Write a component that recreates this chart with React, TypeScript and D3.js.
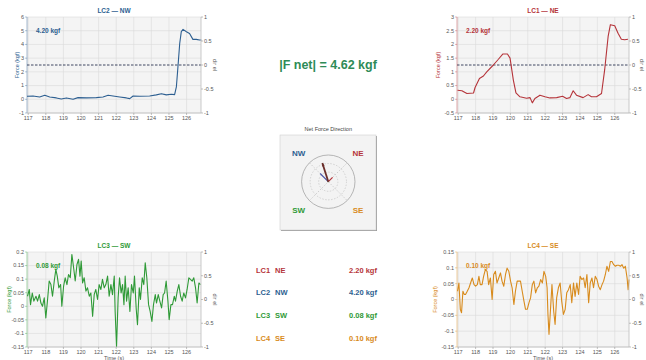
import React from 'react';
import * as d3 from 'd3';

// ---------- data ----------
const X_TICKS = [117, 118, 119, 120, 121, 122, 123, 124, 125, 126];
const X_DOMAIN = [116.93, 126.82];
const DIR_TICKS = [-1, -0.5, 0, 0.5, 1];

const LC1_TIME = [116.96, 117.21, 117.5, 117.88, 117.97, 118.22, 118.45, 118.64, 119.02, 119.31, 119.56, 119.83, 119.98, 120.17, 120.32, 120.55, 120.93, 121.13, 121.26, 121.41, 121.7, 121.99, 122.27, 122.66, 123.0, 123.23, 123.42, 123.61, 123.8, 124.18, 124.47, 124.66, 124.95, 125.24, 125.42, 125.62, 125.75, 126.0, 126.19, 126.38, 126.57, 126.76];
const LC1_FORCE = [0.33, 0.31, 0.21, 0.23, 0.43, 0.76, 0.85, 1.0, 1.25, 1.46, 1.65, 1.65, 1.5, 0.7, 0.23, 0.09, 0.04, 0.06, -0.13, 0.03, 0.15, 0.09, 0.05, 0.06, 0.11, 0.03, 0.06, 0.31, 0.15, 0.06, 0.17, 0.09, 0.09, 0.21, 1.07, 2.29, 2.72, 2.68, 2.41, 2.19, 2.17, 2.19];

const LC2_TIME = [116.93, 117.27, 117.65, 117.94, 118.22, 118.6, 118.88, 119.17, 119.55, 119.83, 120.31, 120.87, 121.25, 121.54, 121.82, 122.2, 122.58, 122.77, 122.96, 123.34, 123.9, 124.28, 124.57, 124.85, 125.13, 125.32, 125.42, 125.51, 125.61, 125.7, 125.8, 125.99, 126.17, 126.36, 126.55, 126.74, 126.84];
const LC2_FORCE = [0.22, 0.24, 0.17, 0.29, 0.17, 0.1, 0.02, 0.1, 0.0, 0.12, 0.1, 0.12, 0.17, 0.29, 0.24, 0.17, 0.1, 0.05, 0.24, 0.22, 0.24, 0.32, 0.41, 0.32, 0.37, 0.34, 0.9, 2.37, 4.07, 4.93, 5.1, 4.93, 4.8, 4.37, 4.37, 4.32, 4.32];

const LC3_TIME = [116.96, 117.06, 117.13, 117.23, 117.32, 117.44, 117.53, 117.63, 117.72, 117.81, 117.91, 118.0, 118.1, 118.19, 118.29, 118.38, 118.48, 118.57, 118.65, 118.74, 118.84, 118.91, 119.01, 119.1, 119.2, 119.29, 119.39, 119.48, 119.58, 119.67, 119.77, 119.86, 119.94, 120.01, 120.09, 120.18, 120.28, 120.37, 120.47, 120.56, 120.66, 120.75, 120.84, 120.94, 121.03, 121.13, 121.22, 121.32, 121.41, 121.51, 121.6, 121.7, 121.79, 121.89, 121.94, 122.02, 122.11, 122.19, 122.28, 122.36, 122.44, 122.51, 122.59, 122.68, 122.78, 122.87, 122.97, 123.04, 123.14, 123.21, 123.31, 123.38, 123.48, 123.57, 123.65, 123.74, 123.84, 123.93, 124.03, 124.12, 124.22, 124.29, 124.39, 124.48, 124.58, 124.67, 124.75, 124.84, 124.94, 125.01, 125.11, 125.2, 125.3, 125.37, 125.47, 125.56, 125.66, 125.75, 125.84, 125.94, 126.03, 126.13, 126.22, 126.32, 126.41, 126.51, 126.6, 126.7, 126.79];
const LC3_FORCE = [0.037, 0.062, 0.006, 0.049, 0.019, 0.037, 0.019, 0.043, 0.012, 0.0, 0.031, -0.043, 0.025, 0.093, 0.08, 0.037, 0.093, 0.136, 0.111, 0.068, 0.08, 0.0, 0.074, 0.105, 0.08, 0.117, 0.105, 0.191, 0.142, 0.093, 0.154, 0.173, 0.111, 0.167, 0.086, 0.105, 0.056, 0.068, 0.037, 0.049, -0.037, 0.043, 0.062, 0.025, 0.08, 0.062, 0.099, 0.068, 0.08, 0.111, 0.037, 0.08, 0.043, 0.111, -0.019, -0.148, 0.031, 0.105, 0.049, 0.08, 0.006, 0.111, 0.019, 0.068, -0.019, 0.08, 0.049, 0.111, -0.012, -0.068, 0.068, 0.025, 0.105, 0.08, 0.16, 0.105, 0.006, -0.019, -0.056, 0.006, 0.043, 0.012, 0.043, 0.019, -0.006, 0.043, 0.049, 0.093, 0.019, -0.049, 0.006, 0.006, 0.037, 0.019, 0.056, 0.08, 0.037, 0.019, 0.049, 0.031, 0.062, 0.105, 0.099, 0.093, 0.105, 0.068, 0.012, 0.086, 0.08];

const LC4_TIME = [116.96, 117.04, 117.12, 117.19, 117.27, 117.35, 117.42, 117.52, 117.62, 117.71, 117.81, 117.91, 118.0, 118.1, 118.19, 118.27, 118.37, 118.46, 118.56, 118.66, 118.75, 118.85, 118.95, 119.04, 119.14, 119.23, 119.33, 119.43, 119.52, 119.62, 119.72, 119.81, 119.91, 120.01, 120.1, 120.2, 120.29, 120.39, 120.49, 120.58, 120.68, 120.78, 120.87, 120.97, 121.07, 121.16, 121.26, 121.35, 121.45, 121.55, 121.64, 121.74, 121.84, 121.93, 122.03, 122.11, 122.16, 122.22, 122.3, 122.39, 122.49, 122.57, 122.66, 122.76, 122.86, 122.95, 123.05, 123.15, 123.24, 123.34, 123.44, 123.53, 123.63, 123.72, 123.82, 123.92, 124.01, 124.11, 124.21, 124.3, 124.4, 124.5, 124.59, 124.69, 124.78, 124.88, 124.98, 125.07, 125.17, 125.27, 125.36, 125.46, 125.55, 125.65, 125.75, 125.84, 125.94, 126.04, 126.13, 126.23, 126.33, 126.42, 126.52, 126.61, 126.71, 126.77, 126.82];
const LC4_FORCE = [0.026, 0.052, -0.031, -0.042, 0.026, 0.016, 0.016, 0.026, 0.037, 0.052, 0.068, 0.047, 0.042, 0.047, 0.073, 0.047, 0.047, 0.073, 0.094, 0.089, 0.047, 0.068, 0.0, 0.079, 0.089, 0.052, 0.068, 0.084, 0.058, 0.042, 0.079, 0.099, 0.089, 0.058, 0.037, -0.016, 0.026, 0.058, 0.058, 0.058, 0.026, -0.005, -0.031, -0.031, -0.01, 0.005, 0.047, 0.058, 0.021, 0.037, 0.042, 0.063, 0.052, 0.089, 0.073, 0.037, -0.047, -0.11, -0.037, 0.047, -0.037, -0.079, 0.005, 0.037, 0.052, -0.005, -0.047, -0.031, 0.021, 0.031, 0.047, -0.01, 0.052, 0.01, 0.052, 0.016, 0.073, 0.063, 0.068, 0.037, 0.079, -0.01, 0.052, 0.068, 0.037, 0.073, 0.063, 0.042, 0.031, 0.047, 0.058, 0.079, 0.105, 0.089, 0.12, 0.12, 0.11, 0.105, 0.108, 0.108, 0.105, 0.11, 0.099, 0.105, 0.068, 0.031, 0.063];

const LC1_YTICKS = [-0.5, 0, 0.5, 1, 1.5, 2, 2.5, 3];
const LC2_YTICKS = [-1, 0, 1, 2, 3, 4, 5, 6];
const LC3_YTICKS = [-0.15, -0.1, -0.05, 0, 0.05, 0.1, 0.15, 0.2];
const LC4_YTICKS = [-0.15, -0.1, -0.05, 0, 0.05, 0.1, 0.15];

const LC_NAMES = ['LC1', 'LC2', 'LC3', 'LC4'];
const LC_DIRS = ['NE', 'NW', 'SW', 'SE'];
const LC_BEARINGS = [45, -45, -135, 135];
const LC_FINAL = [2.2, 4.2, 0.08, 0.1];
const NET_FORCE = 4.62;

// ---------- style ----------
const COLORS = ['#b5343a', '#2d5f91', '#2f9a37', '#d88b1d'];
const FONT = "'Liberation Sans', Arial, Helvetica, sans-serif";
const fmt = (v: number) => (v.toFixed(2));

type PanelProps = {
  x0: number; x1: number; y0: number; y1: number;
  times: number[]; values: number[]; yTicks: number[];
  color: string; title: string; annotation: string;
  dashed: boolean; xLabel: boolean; yLabelX: number; rLabelX: number;
};

function Panel(p: PanelProps) {
  const xs = d3.scaleLinear().domain(X_DOMAIN).range([p.x0, p.x1]);
  const ys = d3.scaleLinear().domain([p.yTicks[0], p.yTicks[p.yTicks.length - 1]]).range([p.y1, p.y0]);
  const yr = d3.scaleLinear().domain([-1, 1]).range([p.y1, p.y0]);
  const line = d3.line<number>().x((_, i) => xs(p.times[i])).y((d) => ys(d));
  const midY = (p.y0 + p.y1) / 2;
  const cx = (p.x0 + p.x1) / 2;
  return (
    <g>
      <rect x={p.x0} y={p.y0} width={p.x1 - p.x0} height={p.y1 - p.y0} fill="#f4f4f4" />
      {X_TICKS.map((t) => (
        <line key={'gx' + t} x1={xs(t)} x2={xs(t)} y1={p.y0} y2={p.y1} stroke="#dadada" strokeWidth={0.6} />
      ))}
      {p.yTicks.map((t) => (
        <line key={'gy' + t} x1={p.x0} x2={p.x1} y1={ys(t)} y2={ys(t)} stroke="#dadada" strokeWidth={0.6} />
      ))}
      {p.dashed && (
        <line x1={p.x0} x2={p.x1} y1={yr(0)} y2={yr(0)} stroke="#2a3350" strokeWidth={0.9} strokeDasharray="2.5,1.5" />
      )}
      <path d={line(p.values) || ''} fill="none" stroke={p.color} strokeWidth={1.1} strokeLinejoin="round" />
      <line x1={p.x0} x2={p.x0} y1={p.y0} y2={p.y1} stroke={p.color} strokeOpacity={0.55} strokeWidth={0.8} />
      <line x1={p.x1} x2={p.x1} y1={p.y0} y2={p.y1} stroke="#bdbdbd" strokeWidth={0.8} />
      <line x1={p.x0} x2={p.x1} y1={p.y1} y2={p.y1} stroke="#bdbdbd" strokeWidth={0.8} />
      {p.yTicks.map((t) => (
        <g key={'ly' + t}>
          <line x1={p.x0 - 2} x2={p.x0} y1={ys(t)} y2={ys(t)} stroke={p.color} strokeOpacity={0.6} strokeWidth={0.6} />
          <text x={p.x0 - 3} y={ys(t)} dy="0.35em" textAnchor="end" fontSize={5.5} fill="#555">{String(t)}</text>
        </g>
      ))}
      {DIR_TICKS.map((t) => (
        <g key={'ry' + t}>
          <line x1={p.x1} x2={p.x1 + 2} y1={yr(t)} y2={yr(t)} stroke="#999" strokeWidth={0.6} />
          <text x={p.x1 + 3} y={yr(t)} dy="0.35em" textAnchor="start" fontSize={5.5} fill="#555">{String(t)}</text>
        </g>
      ))}
      {X_TICKS.map((t) => (
        <g key={'bx' + t}>
          <line x1={xs(t)} x2={xs(t)} y1={p.y1} y2={p.y1 + 2} stroke="#999" strokeWidth={0.6} />
          <text x={xs(t)} y={p.y1 + 5} dy="0.35em" textAnchor="middle" fontSize={5.5} fill="#555">{String(t)}</text>
        </g>
      ))}
      <text x={cx} y={p.y0 - 4} textAnchor="middle" fontSize={6.5} fontWeight="bold" fill={p.color}>{p.title}</text>
      <text x={p.x0 + 9} y={p.y0 + 14} dy="0.35em" fontSize={6.5} fontWeight="bold" fill={p.color}>{p.annotation}</text>
      <text transform={`translate(${p.yLabelX},${midY}) rotate(-90)`} textAnchor="middle" dy="0.35em" fontSize={5.5} fill={p.color}>Force (kgf)</text>
      <text transform={`translate(${p.rLabelX},${midY}) rotate(90)`} textAnchor="middle" dy="0.35em" fontSize={5.5} fill="#555">dir el</text>
      {p.xLabel && (
        <text x={cx} y={p.y1 + 11} dy="0.35em" textAnchor="middle" fontSize={5.5} fill="#555">Time (s)</text>
      )}
    </g>
  );
}

function Compass() {
  const cx = 328.3, cy = 181.7, R = 26.7;
  const rNet = d3.scaleLinear().domain([0, 6.3]).range([0, R]);
  const rComp = d3.scaleLinear().domain([0, 9.7]).range([0, R]);
  const rad = (deg: number) => (deg * Math.PI) / 180;
  const vx = d3.sum(LC_FINAL.map((f, i) => f * Math.sin(rad(LC_BEARINGS[i]))));
  const vy = d3.sum(LC_FINAL.map((f, i) => f * Math.cos(rad(LC_BEARINGS[i]))));
  const ang = Math.atan2(vx, vy);
  const tipX = cx + rNet(NET_FORCE) * Math.sin(ang);
  const tipY = cy - rNet(NET_FORCE) * Math.cos(ang);
  const ah = 3.5;
  const head = [
    [tipX, tipY],
    [tipX - ah * Math.sin(ang - 0.4), tipY + ah * Math.cos(ang - 0.4)],
    [tipX - ah * Math.sin(ang + 0.4), tipY + ah * Math.cos(ang + 0.4)],
  ];
  return (
    <g>
      <text x={cx} y={131} textAnchor="middle" fontSize={5.5} fill="#444">Net Force Direction</text>
      <rect x={281} y={136} width={96} height={95} fill="#9a9a9a" />
      <rect x={280} y={135} width={96} height={95} fill="#f3f3f3" stroke="#cfcfcf" strokeWidth={0.6} />
      <circle cx={cx} cy={cy} r={R} fill="none" stroke="#9a9a9a" strokeWidth={0.7} />
      {[R * 0.68, R * 0.36].map((r) => (
        <circle key={r} cx={cx} cy={cy} r={r} fill="none" stroke="#b0b0b0" strokeWidth={0.5} strokeDasharray="1.5,1.5" />
      ))}
      {[45, 135].map((b) => (
        <line key={b} x1={cx - R * Math.sin(rad(b))} y1={cy + R * Math.cos(rad(b))} x2={cx + R * Math.sin(rad(b))} y2={cy - R * Math.cos(rad(b))}
          stroke="#a8a8a8" strokeWidth={0.5} strokeDasharray="1.5,1.5" />
      ))}
      {LC_DIRS.map((d, i) => (
        <text key={d} x={cx + 42 * Math.sin(rad(LC_BEARINGS[i]))} y={cy - 41 * Math.cos(rad(LC_BEARINGS[i]))} dy="0.35em"
          textAnchor="middle" fontSize={8} fontWeight="bold" fill={COLORS[i]}>{d}</text>
      ))}
      {LC_FINAL.map((f, i) => (
        <line key={'c' + i} x1={cx} y1={cy} x2={cx + rComp(f) * Math.sin(rad(LC_BEARINGS[i]))} y2={cy - rComp(f) * Math.cos(rad(LC_BEARINGS[i]))}
          stroke={i === 1 ? '#4a56a8' : COLORS[i]} strokeWidth={1.2} />
      ))}
      <line x1={cx} y1={cy} x2={tipX} y2={tipY} stroke="#6a2e2a" strokeWidth={1.8} />
      <polygon points={head.map((h) => h.join(',')).join(' ')} fill="#6a2e2a" />
    </g>
  );
}

export default function App() {
  return (
    <svg width={646} height={360} style={{ position: 'absolute', left: 0, top: 0, background: '#fff' }} fontFamily={FONT}>
      <rect width={646} height={360} fill="#fff" />
      <Panel x0={27} x1={201} y0={17} y1={113} times={LC2_TIME} values={LC2_FORCE} yTicks={LC2_YTICKS}
        color={COLORS[1]} title={`${LC_NAMES[1]} — ${LC_DIRS[1]}`} annotation={`${fmt(LC_FINAL[1])} kgf`}
        dashed={true} xLabel={false} yLabelX={17} rLabelX={215} />
      <Panel x0={457} x1={629} y0={17} y1={113} times={LC1_TIME} values={LC1_FORCE} yTicks={LC1_YTICKS}
        color={COLORS[0]} title={`${LC_NAMES[0]} — ${LC_DIRS[0]}`} annotation={`${fmt(LC_FINAL[0])} kgf`}
        dashed={true} xLabel={false} yLabelX={438} rLabelX={642} />
      <Panel x0={27} x1={201} y0={252} y1={347} times={LC3_TIME} values={LC3_FORCE} yTicks={LC3_YTICKS}
        color={COLORS[2]} title={`${LC_NAMES[2]} — ${LC_DIRS[2]}`} annotation={`${fmt(LC_FINAL[2])} kgf`}
        dashed={false} xLabel={true} yLabelX={9} rLabelX={215} />
      <Panel x0={457} x1={629} y0={252} y1={347} times={LC4_TIME} values={LC4_FORCE} yTicks={LC4_YTICKS}
        color={COLORS[3]} title={`${LC_NAMES[3]} — ${LC_DIRS[3]}`} annotation={`${fmt(LC_FINAL[3])} kgf`}
        dashed={false} xLabel={true} yLabelX={435} rLabelX={642} />
      <text x={328} y={65} dy="0.35em" textAnchor="middle" fontSize={12.5} fontWeight="bold" fill="#2e8b57">
        {`|F net| = ${fmt(NET_FORCE)} kgf`}
      </text>
      <Compass />
      {LC_NAMES.map((n, i) => (
        <g key={n}>
          <text x={256} y={270 + i * 22.8} dy="0.35em" fontSize={7.5} fontWeight="bold" fill={COLORS[i]}>{n}</text>
          <text x={275} y={270 + i * 22.8} dy="0.35em" fontSize={7.5} fontWeight="bold" fill={COLORS[i]}>{LC_DIRS[i]}</text>
          <text x={349} y={270 + i * 22.8} dy="0.35em" fontSize={7.5} fontWeight="bold" fill={COLORS[i]}>{`${fmt(LC_FINAL[i])} kgf`}</text>
        </g>
      ))}
    </svg>
  );
}
